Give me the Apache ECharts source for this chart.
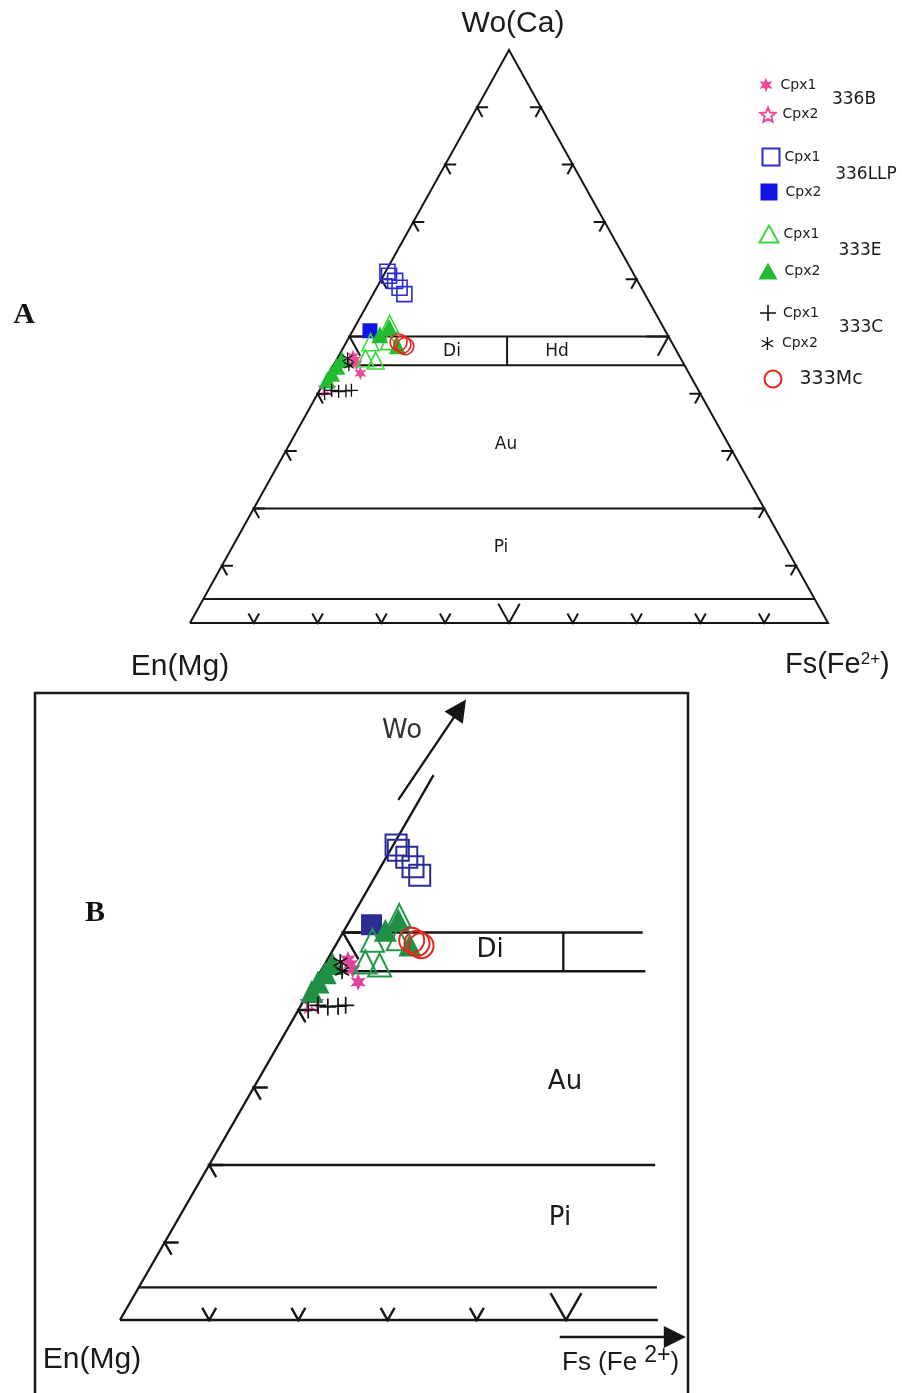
<!DOCTYPE html>
<html><head><meta charset="utf-8">
<script src="https://cdn.jsdelivr.net/npm/echarts@6/dist/echarts.min.js"></script>
<style>html,body{margin:0;padding:0;background:#fff}#c{width:902px;height:1393px}</style>
</head><body><div id="c"></div>
<script>
// ---------------- DATA (ternary rows: [Wo, En, Fs]) ----------------
const cpx336B_1   = [[46.5,51.2,2.3],[45.9,51.2,2.9],[45.2,51.3,3.5],[43.6,51.5,4.9]];
const cpx336B_2   = [[41.0,58.0,1.0]];
const cpx336LLP_1 = [[61.3,38.4,0.3],[60.6,38.5,0.9],[59.7,38.0,2.3],[58.5,37.9,3.6],[57.4,37.7,4.9]];
const cpx336LLP_2 = [[51.0,46.3,2.7]];
const cpx333E_1   = [[45.8,48.0,6.2],[49.0,47.2,3.8],[46.2,49.4,4.4],[49.2,44.2,6.6],[52.2,42.6,5.2]];
const cpx333E_2   = [[51.6,43.0,5.4],[50.3,45.1,4.6],[48.4,43.3,8.3],[46.0,53.2,0.8],[44.8,54.6,0.6],[43.6,56.0,0.4],[42.4,57.3,0.3]];
const cpx333C_1   = [[40.6,57.5,1.9],[40.4,56.5,3.1],[40.5,55.3,4.2],[40.6,54.4,5.0],[40.0,58.9,1.1]];
const cpx333C_2   = [[46.2,52.2,1.6],[45.0,52.6,2.4]];
const mc333       = [[49.0,42.8,8.2],[48.6,42.4,9.0],[48.3,42.1,9.6]];

// field boundaries (Wo levels) and Di/Hd divider (En = Fs)
const woBoundaries = [4.2, 20, 45, 50];
const diHdX = 49.7;
const diHdRange = [45, 50];
// enlarged panel: right ends (X) of the boundary lines, bottom edge end, left edge top (Wo)
const zoomBoundaryEnds = [60.2, 60.0, 58.9, 58.6];
const zoomBottomEnd = 60.3;
const zoomEdgeTopWo = 70.3;
// tick values (per cent)
const ticksFull = [10,20,30,40,50,60,70,80,90];
const ticksZoom = [10,20,30,40,50];
const bigTick = 50;
// ternary corners
const corners = {En:[0,100,0], Fs:[0,0,100], Wo:[100,0,0]};

// ---------------- helpers ----------------
function toXY(r){ const s=r[0]+r[1]+r[2]; const wo=100*r[0]/s, fs=100*r[2]/s; return [fs+wo/2, wo]; }
function starPath(n, ro, ri){
  let d=''; for(let i=0;i<2*n;i++){ const r=i%2?ri:ro; const a=-Math.PI/2+i*Math.PI/n;
    d+=(i?'L':'M')+(r*Math.cos(a)).toFixed(2)+','+(r*Math.sin(a)).toFixed(2)+' ';} return 'path://'+d+'Z';
}
function barsPath(angles, halfLen, halfW){
  let d='';
  angles.forEach(function(deg){ const a=deg*Math.PI/180, c=Math.cos(a), s=Math.sin(a);
    const pts=[[-halfLen,-halfW],[halfLen,-halfW],[halfLen,halfW],[-halfLen,halfW]].map(function(p){return [p[0]*c-p[1]*s, p[0]*s+p[1]*c];});
    d+='M'+pts.map(function(p){return p[0].toFixed(2)+','+p[1].toFixed(2);}).join(' L')+' Z ';
  });
  return 'path://'+d;
}
const STAR6 = starPath(6,10,4.6);
const STAR5 = starPath(5,10,4.4);
const PLUS  = barsPath([0,90],10,1.0);
const AST   = barsPath([90,30,150],10,1.0);

const specs = [
  {name:'336B Cpx1',   data:cpx336B_1,   symbol:STAR6, open:false, cA:'#ea4a9c', cB:'#e2439b', sA:14, sB:18},
  {name:'336B Cpx2',   data:cpx336B_2,   symbol:STAR5, open:true,  cA:'#ea4a9c', cB:'#e2439b', sA:15, sB:20},
  {name:'336LLP Cpx1', data:cpx336LLP_1, symbol:'rect', open:true, cA:'#2b2bd0', cB:'#2c2c96', sA:15, sB:21},
  {name:'336LLP Cpx2', data:cpx336LLP_2, symbol:'rect', open:false,cA:'#1414e6', cB:'#2c2c96', sA:15, sB:21},
  {name:'333E Cpx1',   data:cpx333E_1,   symbol:'triangle', open:true, cA:'#3ad83a', cB:'#22994a', sA:17, sB:23},
  {name:'333E Cpx2',   data:cpx333E_2,   symbol:'triangle', open:false,cA:'#22bb33', cB:'#1f9044', sA:17, sB:23},
  {name:'333C Cpx1',   data:cpx333C_1,   symbol:PLUS, open:false, cA:'#111', cB:'#111', sA:13, sB:17},
  {name:'333C Cpx2',   data:cpx333C_2,   symbol:AST,  open:false, cA:'#111', cB:'#111', sA:12, sB:16},
  {name:'333Mc',       data:mc333,       symbol:'circle', open:true, cA:'#e8261e', cB:'#e0281e', sA:17, sB:25}
];

function scatter(sp, gi){
  const c = gi===0?sp.cA:sp.cB;
  return {
    type:'scatter', name:sp.name, xAxisIndex:gi, yAxisIndex:gi, z:5,
    symbol:sp.symbol, symbolKeepAspect:true, symbolSize: gi===0?sp.sA:sp.sB,
    data: sp.data.map(toXY),
    itemStyle: sp.open ? {color:'rgba(0,0,0,0)', borderColor:c, borderWidth: gi===0?1.6:2, opacity:1}
                       : {color:c, borderWidth:0, opacity:1},
    emphasis:{disabled:true}
  };
}

function tickRender(len, bigLen, lw){
  return function(params, api){
    const p = api.coord([api.value(0), api.value(1)]);
    const edge = api.value(2), big = api.value(3);
    const c0 = api.coord(toXY(corners.En)), c1 = api.coord(toXY(corners.Fs)), ap = api.coord(toXY(corners.Wo));
    const nrm=function(a,b){const dx=b[0]-a[0],dy=b[1]-a[1],l=Math.hypot(dx,dy);return [dx/l,dy/l];};
    const uL=nrm(c0,ap), uR=nrm(c1,ap);
    let a1,a2;
    if(edge===0){a1=[1,0];a2=[-uR[0],-uR[1]];}
    else if(edge===1){a1=[-1,0];a2=[-uL[0],-uL[1]];}
    else {a1=uR;a2=uL;}
    const L = big?bigLen:len;
    return {type:'polyline', shape:{points:[[p[0]+a1[0]*L,p[1]+a1[1]*L],p,[p[0]+a2[0]*L,p[1]+a2[1]*L]]},
      style:{stroke:'#151515', lineWidth:lw, fill:null}};
  };
}
function tickData(vals, edges){
  const out=[];
  edges.forEach(function(e){ vals.forEach(function(v){
    let xy = e===0 ? [v/2, v] : e===1 ? [100-v/2, v] : [v, 0];
    out.push([xy[0], xy[1], e, v===bigTick?1:0]);
  });});
  return out;
}

// structural lines
const triA = [toXY(corners.En), toXY(corners.Fs), toXY(corners.Wo), toXY(corners.En)];
const linesA = [{coords:triA}]
  .concat(woBoundaries.map(function(w){return {coords:[[w/2,w],[100-w/2,w]]};}))
  .concat([{coords:[[diHdX,diHdRange[0]],[diHdX,diHdRange[1]]]}]);
const linesB = [{coords:[[0,0],[zoomEdgeTopWo/2,zoomEdgeTopWo]]},{coords:[[0,0],[zoomBottomEnd,0]]}]
  .concat(woBoundaries.map(function(w,i){return {coords:[[w/2,w],[zoomBoundaryEnds[i],w]]};}))
  .concat([{coords:[[diHdX,diHdRange[0]],[diHdX,diHdRange[1]]]}]);
const arrowsB = [{coords:[[31.2,67.1],[38.1,78.9]]},{coords:[[49.3,-2.2],[62.2,-2.2]]}];

const series = [];
specs.forEach(function(sp){ series.push(scatter(sp,0)); });
specs.forEach(function(sp){ series.push(scatter(sp,1)); });
series.push({type:'lines', coordinateSystem:'cartesian2d', xAxisIndex:0, yAxisIndex:0, polyline:true, clip:false, z:2,
  silent:true, data:linesA, lineStyle:{color:'#151515', width:2, opacity:1}});
series.push({type:'lines', coordinateSystem:'cartesian2d', xAxisIndex:1, yAxisIndex:1, polyline:true, clip:false, z:2,
  silent:true, data:linesB, lineStyle:{color:'#151515', width:2.3, opacity:1}});
series.push({type:'lines', coordinateSystem:'cartesian2d', xAxisIndex:1, yAxisIndex:1, clip:false, z:2,
  silent:true, data:arrowsB, symbol:['none','triangle'], symbolSize:[13,22], lineStyle:{color:'#151515', width:2.3, opacity:1}});
series.push({type:'custom', xAxisIndex:0, yAxisIndex:0, clip:false, silent:true, z:3,
  data:tickData(ticksFull,[0,1,2]), renderItem:tickRender(11,22,2)});
series.push({type:'custom', xAxisIndex:1, yAxisIndex:1, clip:false, silent:true, z:3,
  data:tickData(ticksZoom,[0,2]), renderItem:tickRender(14,31,2.4)});

// legends
const legendPos = [
  ['336B Cpx1',767,85,15,15,'Cpx1',2],['336B Cpx2',767,114,15,15,'Cpx2',2],
  ['336LLP Cpx1',770,156,17,17,'Cpx1',0],['336LLP Cpx2',769,192,17,17,'Cpx2',3],
  ['333E Cpx1',768,233,19,17,'Cpx1',0],['333E Cpx2',768,271,19,17,'Cpx2',2],
  ['333C Cpx1',768,313,16,16,'Cpx1',2],['333C Cpx2',768,343,13,13,'Cpx2',3],
  ['333Mc',772,378,17,17,'333Mc',13]
];
const legends = legendPos.map(function(l){
  return {data:[l[0]], left:l[1]-l[3]/2, top:l[2]-l[4]/2, itemWidth:l[3], itemHeight:l[4], padding:0, itemGap:0,
    selectedMode:false, formatter:l[5],
    textStyle:{fontFamily:'DejaVu Sans', fontSize:l[0]==='333Mc'?19:14, color:'#222', padding:[0,0,0,l[6]]}};
});

function txt(x,y,text,size,font,extra){
  return Object.assign({type:'text', x:x, y:y, silent:true, z:10,
    style:{text:text, fontSize:size, fontFamily:font, fill:'#1a1a1a', align:'center', verticalAlign:'middle'}}, extra||{});
}
const SANS='Liberation Sans', DJ='DejaVu Sans';
const graphic = [
  {type:'rect', shape:{x:35,y:693,width:653,height:740}, style:{fill:null, stroke:'#1a1a1a', lineWidth:2.5}, silent:true},
  txt(513,24,'Wo(Ca)',30,SANS),
  txt(180,667,'En(Mg)',30,SANS),
  {type:'text', x:785, y:665, silent:true, style:{text:'{a|Fs(Fe}{s|2+}{a|)}', fontFamily:SANS, fill:'#1a1a1a', align:'left', verticalAlign:'middle',
    rich:{a:{fontSize:29, fontFamily:SANS, fill:'#1a1a1a'}, s:{fontSize:17, fontFamily:SANS, fill:'#1a1a1a', verticalAlign:'top', padding:[0,0,10,0]}}}},
  txt(452,352,'Di',17,DJ), txt(557,352,'Hd',17,DJ), txt(506,445,'Au',17,DJ), txt(501,548,'Pi',17,DJ),
  txt(24,315,'A',30,'Liberation Serif',{style:{text:'A',fontSize:30,fontFamily:'Liberation Serif',fontWeight:'bold',fill:'#111',align:'center',verticalAlign:'middle'}}),
  txt(95,913,'B',30,'Liberation Serif',{style:{text:'B',fontSize:30,fontFamily:'Liberation Serif',fontWeight:'bold',fill:'#111',align:'center',verticalAlign:'middle'}}),
  txt(854,100,'336B',17,DJ), txt(866,175,'336LLP',17,DJ), txt(860,251,'333E',17,DJ), txt(861,328,'333C',17,DJ),
  txt(402,731,'Wo',26,DJ,{style:{text:'Wo',fontSize:26,fontFamily:DJ,fill:'#333',align:'center',verticalAlign:'middle'}}),
  txt(490,950,'Di',26,DJ), txt(565,1082,'Au',26,DJ), txt(560,1218,'Pi',26,DJ),
  txt(92,1360,'En(Mg)',30,SANS),
  {type:'text', x:562, y:1363, silent:true, style:{text:'{a|Fs (Fe }{s|2+}{a|)}', fontFamily:SANS, fill:'#1a1a1a', align:'left', verticalAlign:'middle',
    rich:{a:{fontSize:26, fontFamily:SANS, fill:'#1a1a1a'}, s:{fontSize:23, fontFamily:SANS, fill:'#1a1a1a', verticalAlign:'top', padding:[0,0,14,0]}}}}
];

const chart = echarts.init(document.getElementById('c'), null, {renderer:'canvas'});
chart.setOption({
  animation:false, backgroundColor:'#fff',
  grid:[{left:190, top:50, width:638, height:573}, {left:120, top:700, width:544.1, height:620}],
  xAxis:[{type:'value', gridIndex:0, min:0, max:100, show:false}, {type:'value', gridIndex:1, min:0, max:61, show:false}],
  yAxis:[{type:'value', gridIndex:0, min:0, max:100, show:false}, {type:'value', gridIndex:1, min:0, max:80, show:false}],
  legend:legends,
  graphic:graphic,
  series:series
});
</script></body></html>
